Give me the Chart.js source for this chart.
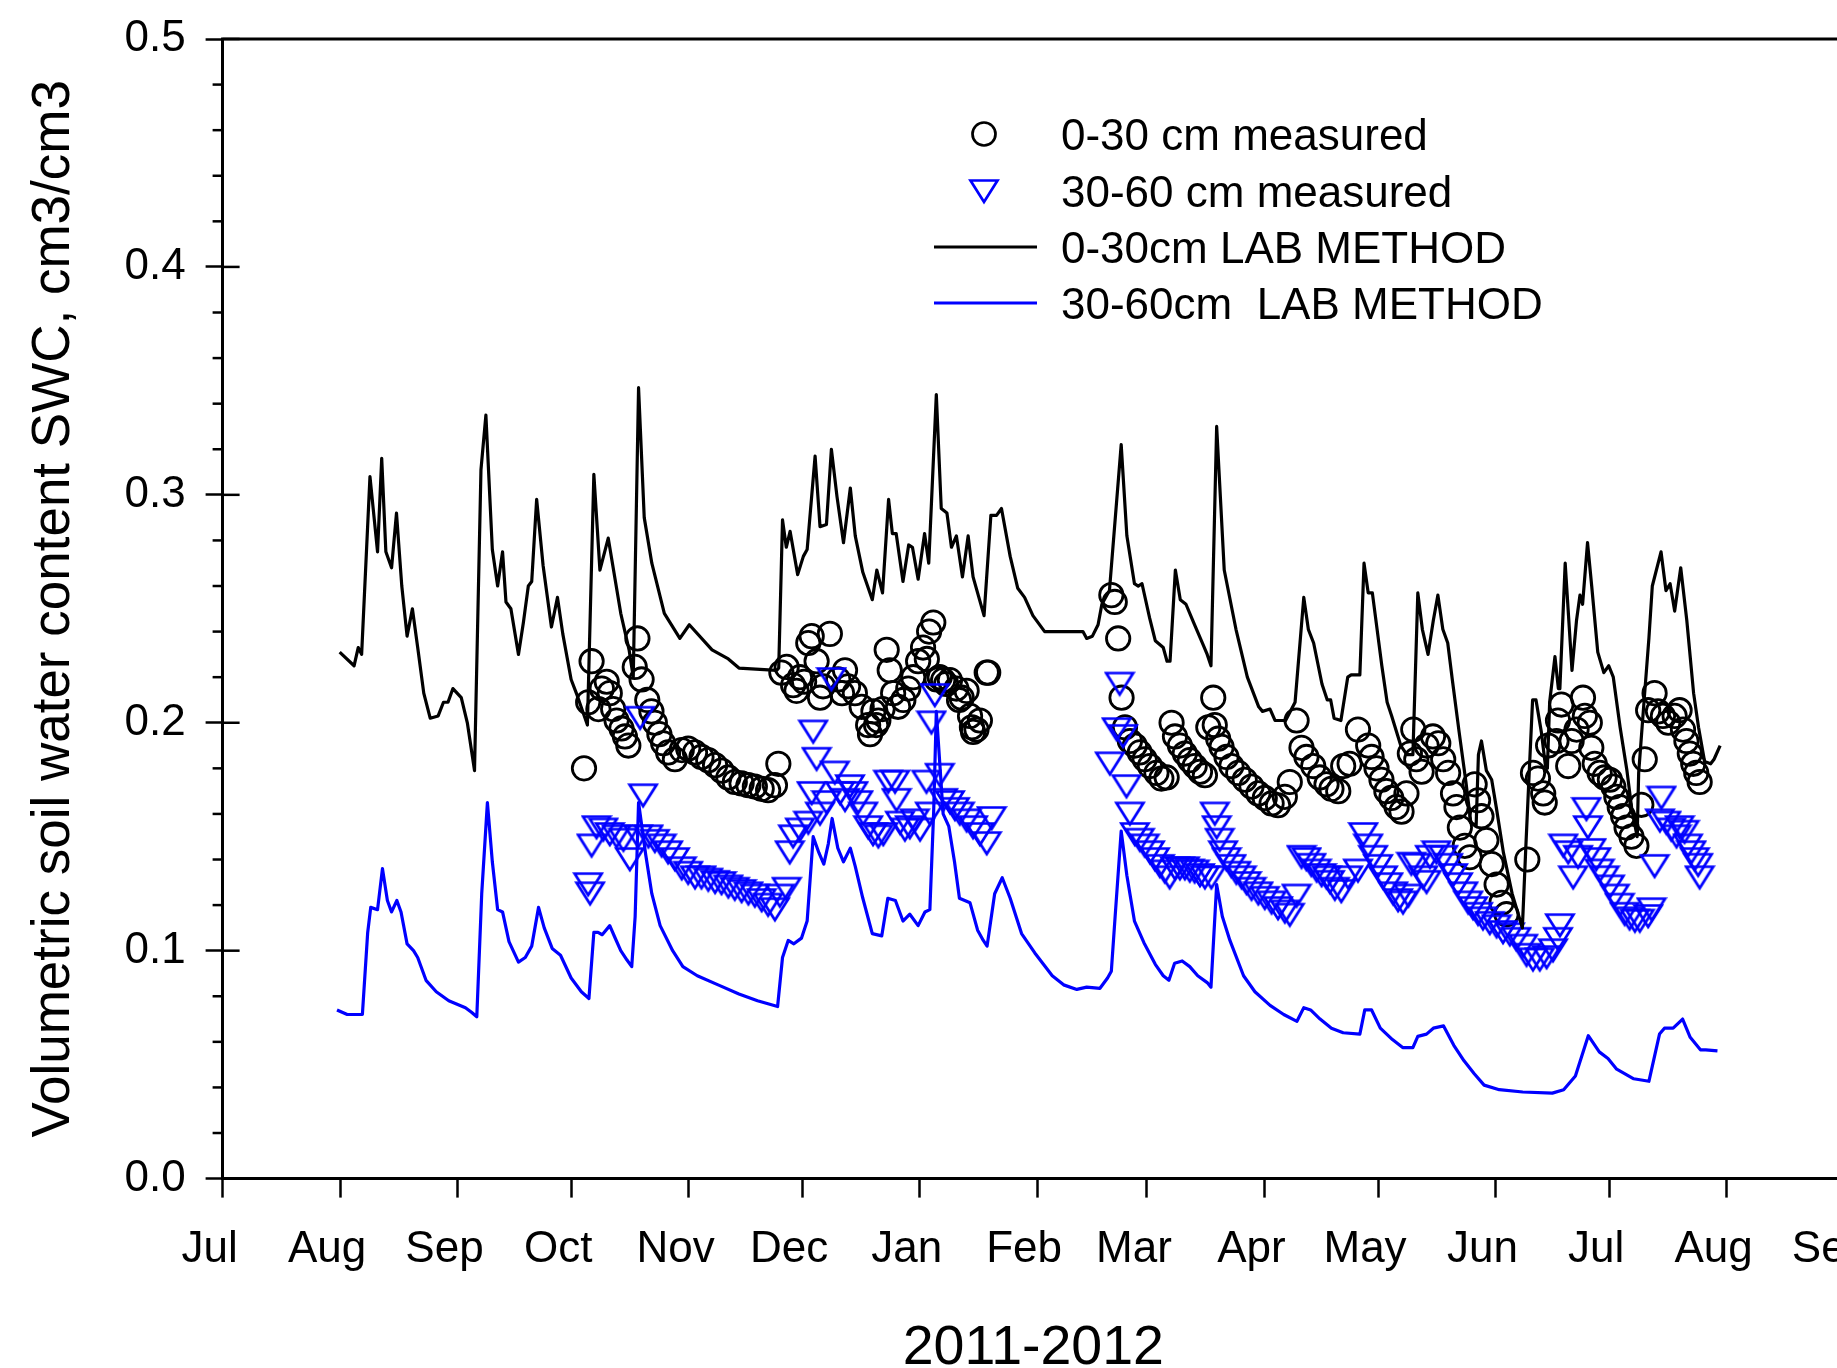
<!DOCTYPE html>
<html>
<head>
<meta charset="utf-8">
<title>Soil water content 2011-2012</title>
<script src="https://cdn.jsdelivr.net/npm/chart.js@4.4.0/dist/chart.umd.min.js"></script>
<style>
  html, body { margin: 0; padding: 0; background: #fff; overflow: hidden; }
  #wrap { width: 1914px; height: 1368px; }
</style>
</head>
<body>
<div id="wrap"><canvas id="swcChart"></canvas></div>
<script>
// x values are days counted from 1 Jul 2011
const monthLabels = ["Jul", "Aug", "Sep", "Oct", "Nov", "Dec", "Jan", "Feb", "Mar", "Apr", "May", "Jun", "Jul", "Aug", "Sep"];
const monthDays = [0, 31, 62, 92, 123, 153, 184, 215, 244, 275, 305, 336, 366, 397, 428];

// 0-30cm LAB METHOD (black line)
const lab030Days = [30.9, 34.7, 35.8, 36.7, 38.9, 40.9, 42.0, 43.1, 44.6, 45.9, 47.3, 48.7, 50.1, 51.5, 53.1, 54.8, 56.9, 58.3, 59.5, 60.8,
  63.0, 64.6, 66.5, 68.2, 69.5, 71.2, 72.6, 73.9, 74.8, 76.1, 78.1, 79.4, 80.7, 81.6, 82.9, 84.6, 86.8, 88.4, 89.8, 92.0,
  93.6, 96.3, 98.0, 99.6, 101.8, 105.1, 107.3, 108.4, 109.8, 111.3, 113.3, 116.6, 120.7, 123.2, 129.2, 133.5, 136.3, 146.3, 146.8, 147.8,
  148.8, 149.8, 151.8, 153.3, 154.3, 156.4, 157.7, 159.4, 160.7, 162.2, 163.9, 165.7, 167.0, 169.0, 171.5, 172.7, 174.2, 175.8, 176.8, 177.8,
  179.6, 181.1, 182.1, 183.6, 185.3, 186.4, 188.4, 189.7, 191.2, 192.4, 193.7, 195.3, 196.8, 198.1, 199.8, 201.0, 202.8, 204.3, 205.6, 207.9,
  209.9, 211.7, 213.9, 217.0, 227.1, 228.1, 229.6, 231.1, 232.1, 234.1, 237.2, 238.7, 240.7, 241.7, 242.7, 244.7, 246.2, 248.3, 249.3, 250.1,
  251.5, 252.8, 254.3, 256.3, 258.9, 259.9, 260.9, 262.4, 264.4, 267.5, 270.5, 273.5, 274.5, 276.5, 277.8, 280.6, 283.1, 285.4, 286.6, 288.0,
  290.2, 291.6, 292.5, 293.4, 295.2, 297.0, 297.9, 300.2, 301.3, 302.4, 303.5, 306.0, 307.4, 308.6, 311.0, 312.6, 314.2, 315.5, 316.7, 318.2,
  319.6, 320.8, 322.1, 323.4, 324.6, 326.4, 328.2, 329.5, 330.9, 331.5, 332.3, 333.6, 335.0, 336.3, 338.1, 340.4, 343.1, 344.0, 344.9, 345.8,
  346.7, 348.1, 349.2, 349.7, 350.3, 351.7, 352.6, 353.0, 354.4, 356.2, 357.4, 358.3, 359.0, 360.3, 361.4, 363.0, 364.6, 365.9, 367.1, 368.9,
  370.7, 372.0, 373.4, 373.8, 375.2, 376.5, 377.4, 379.7, 381.0, 382.1, 383.3, 384.9, 386.5, 388.3, 389.6, 391.2, 392.8, 393.7, 395.3];
const lab030Swc = [0.231, 0.225, 0.233, 0.230, 0.308, 0.275, 0.316, 0.275, 0.268, 0.292, 0.260, 0.238, 0.250, 0.233, 0.213, 0.202, 0.203, 0.209, 0.209, 0.215,
  0.211, 0.200, 0.179, 0.311, 0.335, 0.276, 0.260, 0.275, 0.253, 0.250, 0.230, 0.244, 0.260, 0.262, 0.298, 0.269, 0.242, 0.255, 0.239, 0.219,
  0.212, 0.199, 0.309, 0.267, 0.281, 0.248, 0.232, 0.220, 0.347, 0.290, 0.270, 0.248, 0.237, 0.243, 0.232, 0.228, 0.224, 0.223, 0.224, 0.289,
  0.277, 0.284, 0.265, 0.273, 0.276, 0.317, 0.286, 0.287, 0.320, 0.299, 0.279, 0.303, 0.282, 0.266, 0.254, 0.267, 0.257, 0.298, 0.283, 0.283,
  0.262, 0.278, 0.277, 0.263, 0.283, 0.270, 0.344, 0.294, 0.292, 0.277, 0.282, 0.264, 0.282, 0.264, 0.254, 0.247, 0.291, 0.291, 0.294, 0.273,
  0.259, 0.255, 0.247, 0.240, 0.240, 0.237, 0.238, 0.243, 0.252, 0.258, 0.322, 0.282, 0.261, 0.260, 0.261, 0.246, 0.236, 0.233, 0.227, 0.227,
  0.267, 0.254, 0.252, 0.244, 0.234, 0.230, 0.225, 0.330, 0.267, 0.241, 0.220, 0.207, 0.205, 0.206, 0.201, 0.201, 0.209, 0.255, 0.241, 0.235,
  0.217, 0.210, 0.210, 0.202, 0.201, 0.220, 0.221, 0.221, 0.270, 0.257, 0.257, 0.225, 0.209, 0.203, 0.190, 0.186, 0.186, 0.257, 0.241, 0.230,
  0.245, 0.256, 0.241, 0.235, 0.219, 0.196, 0.174, 0.156, 0.155, 0.186, 0.192, 0.179, 0.175, 0.162, 0.143, 0.125, 0.110, 0.145, 0.178, 0.210,
  0.210, 0.196, 0.181, 0.180, 0.209, 0.229, 0.215, 0.215, 0.270, 0.223, 0.245, 0.256, 0.252, 0.279, 0.260, 0.231, 0.222, 0.225, 0.220, 0.198,
  0.179, 0.162, 0.150, 0.178, 0.209, 0.237, 0.260, 0.275, 0.258, 0.261, 0.249, 0.268, 0.245, 0.213, 0.198, 0.183, 0.182, 0.184, 0.190];

// 30-60cm LAB METHOD (blue line)
const lab3060Days = [30.2, 32.9, 36.9, 38.3, 39.1, 40.9, 42.2, 43.5, 44.6, 46.0, 47.1, 48.7, 50.4, 51.5, 53.7, 56.4, 59.7, 64.1, 65.7, 67.1,
  68.4, 69.9, 71.2, 72.6, 73.9, 75.6, 78.1, 79.9, 81.6, 83.4, 84.9, 87.0, 89.2, 92.0, 94.7, 96.7, 98.0, 99.1, 100.2, 102.2,
  103.5, 105.1, 106.7, 108.0, 108.9, 109.8, 111.7, 113.3, 115.5, 118.8, 121.5, 125.3, 130.8, 136.3, 141.2, 146.5, 147.8, 149.3, 150.8, 152.8,
  154.3, 155.9, 157.4, 158.7, 159.9, 160.9, 162.4, 163.9, 165.7, 167.0, 169.0, 171.5, 174.0, 175.6, 177.6, 179.6, 181.4, 183.6, 185.4, 186.7,
  187.7, 188.4, 190.2, 191.7, 193.2, 194.5, 197.3, 199.3, 200.8, 201.8, 203.8, 205.8, 207.9, 210.9, 214.4, 219.0, 222.0, 225.5, 228.1, 231.6,
  233.6, 234.6, 235.6, 237.2, 238.7, 240.7, 243.2, 246.2, 248.3, 249.8, 251.3, 253.3, 255.3, 257.4, 259.9, 260.9, 262.4, 263.9, 265.9, 269.5,
  272.5, 276.5, 280.1, 283.6, 285.4, 287.2, 289.7, 292.7, 295.8, 300.2, 301.5, 303.3, 305.6, 308.8, 311.5, 314.2, 315.5, 317.8, 319.6, 322.3,
  325.0, 327.7, 330.4, 333.0, 337.0, 343.2, 351.0, 354.0, 357.1, 360.5, 363.4, 365.7, 368.0, 372.5, 376.5, 379.3, 380.6, 382.9, 385.4, 387.4,
  390.1, 391.5, 394.6];
const lab3060Swc = [0.074, 0.072, 0.072, 0.108, 0.119, 0.118, 0.136, 0.122, 0.117, 0.122, 0.117, 0.103, 0.100, 0.097, 0.087, 0.082, 0.078, 0.075, 0.073, 0.071,
  0.125, 0.165, 0.139, 0.118, 0.117, 0.104, 0.095, 0.097, 0.102, 0.119, 0.110, 0.101, 0.098, 0.088, 0.082, 0.079, 0.108, 0.108, 0.107, 0.111,
  0.106, 0.100, 0.096, 0.093, 0.115, 0.165, 0.142, 0.125, 0.111, 0.100, 0.093, 0.089, 0.085, 0.081, 0.078, 0.0755, 0.097, 0.1045, 0.103, 0.1055,
  0.113, 0.150, 0.143, 0.138, 0.147, 0.158, 0.145, 0.139, 0.145, 0.137, 0.123, 0.1075, 0.1065, 0.123, 0.122, 0.113, 0.116, 0.111, 0.117, 0.118,
  0.161, 0.205, 0.160, 0.1545, 0.139, 0.123, 0.121, 0.109, 0.1045, 0.102, 0.125, 0.132, 0.123, 0.1075, 0.099, 0.089, 0.085, 0.083, 0.084, 0.0835,
  0.088, 0.091, 0.115, 0.1525, 0.133, 0.113, 0.1035, 0.094, 0.089, 0.087, 0.0945, 0.0955, 0.093, 0.089, 0.086, 0.084, 0.129, 0.115, 0.1045, 0.089,
  0.082, 0.076, 0.072, 0.069, 0.075, 0.074, 0.070, 0.066, 0.064, 0.0634, 0.074, 0.074, 0.066, 0.061, 0.0575, 0.0575, 0.0624, 0.0634, 0.066, 0.067,
  0.0585, 0.0517, 0.046, 0.041, 0.039, 0.038, 0.0375, 0.039, 0.045, 0.0627, 0.0556, 0.0527, 0.048, 0.0438, 0.0427, 0.0634, 0.066, 0.066, 0.070, 0.062,
  0.0565, 0.0565, 0.056];

// 0-30 cm measured (circles)
const meas030Days = [95.4, 96.5, 97.4, 99.2, 100.1, 101.4, 102.2, 103.1, 104.0, 105.3, 106.2, 107.1, 108.8, 109.5, 110.6, 112.1, 113.2, 114.1, 115.3, 116.3,
  117.6, 119.4, 121.2, 122.9, 124.7, 126.4, 128.2, 130.0, 131.7, 133.5, 135.2, 137.0, 138.8, 140.5, 142.3, 144.0, 145.8, 146.7, 147.5, 148.9,
  150.6, 151.5, 152.4, 153.5, 154.6, 155.5, 156.8, 157.7, 158.5, 160.3, 162.5, 163.5, 164.3, 165.1, 166.9, 168.7, 170.4, 170.9, 171.8, 172.5,
  173.1, 174.2, 175.3, 176.1, 177.0, 178.3, 179.7, 181.0, 182.3, 183.6, 184.9, 185.9, 186.5, 187.6, 188.5, 189.3, 190.2, 191.0, 192.0, 193.7,
  194.4, 195.1, 196.4, 197.3, 197.8, 198.1, 199.0, 199.9, 201.7, 202.1,
  234.6, 235.5, 236.4, 237.3, 238.2, 239.5, 240.8, 242.1, 243.4, 244.8, 246.5, 247.8, 249.2, 250.5, 251.4, 252.7, 254.0, 255.3, 256.6, 258.0,
  259.3, 260.2, 261.5, 261.9, 262.8, 263.7, 265.0, 266.3, 268.1, 269.8, 271.6, 273.4, 275.1, 276.9, 278.6, 280.4, 281.7, 283.5, 284.8, 286.1,
  287.9, 289.6, 291.4, 292.7, 294.5, 295.8, 297.5, 299.7, 302.4, 303.3, 304.6, 305.9, 307.2, 308.5, 309.9, 311.2, 312.5, 313.4, 314.3, 315.1,
  316.5, 317.8, 319.5, 320.9, 322.2, 323.5, 324.8, 325.7, 326.6, 327.9, 329.2, 330.5, 331.4, 332.3, 333.6, 335.0, 336.3, 337.6, 338.9, 344.4,
  345.9, 347.2, 348.6, 349.0, 349.9, 352.1, 352.5, 353.4, 355.2, 356.1, 357.4, 359.1, 359.6, 360.9, 361.3, 362.2, 363.5, 364.8, 366.2, 367.1,
  367.9, 368.8, 369.7, 370.6, 371.9, 373.2, 374.5, 375.4, 376.3, 378.0, 378.9, 380.2, 381.6, 383.3, 384.6, 385.5, 386.4, 387.3, 388.2, 389.0, 389.9];
const meas030Swc = [0.180, 0.209, 0.227, 0.206, 0.215, 0.218, 0.213, 0.206, 0.201, 0.1975, 0.194, 0.190, 0.2245, 0.237, 0.219, 0.210, 0.205, 0.200, 0.195, 0.191,
  0.187, 0.184, 0.188, 0.1887, 0.187, 0.185, 0.1836, 0.1814, 0.179, 0.176, 0.174, 0.1734, 0.1726, 0.172, 0.171, 0.1704, 0.1726, 0.182, 0.222, 0.2245,
  0.2165, 0.214, 0.220, 0.218, 0.235, 0.238, 0.227, 0.211, 0.216, 0.239, 0.219, 0.213, 0.223, 0.216, 0.213, 0.207, 0.199, 0.195, 0.205, 0.199,
  0.201, 0.206, 0.232, 0.223, 0.213, 0.207, 0.210, 0.215, 0.220, 0.227, 0.233, 0.228, 0.240, 0.244, 0.219, 0.220, 0.2187, 0.217, 0.2187, 0.215,
  0.210, 0.211, 0.214, 0.203, 0.198, 0.196, 0.197, 0.201, 0.222, 0.222,
  0.256, 0.253, 0.237, 0.211, 0.198, 0.192, 0.190, 0.187, 0.184, 0.181, 0.178, 0.1755, 0.176, 0.200, 0.194, 0.190, 0.1865, 0.1836, 0.181, 0.1785,
  0.177, 0.198, 0.211, 0.199, 0.193, 0.1894, 0.185, 0.181, 0.178, 0.175, 0.172, 0.169, 0.167, 0.1646, 0.1638, 0.1675, 0.174, 0.201, 0.189, 0.185,
  0.181, 0.176, 0.173, 0.171, 0.170, 0.181, 0.182, 0.197, 0.190, 0.185, 0.180, 0.175, 0.170, 0.167, 0.163, 0.161, 0.169, 0.1865, 0.197, 0.184,
  0.1785, 0.190, 0.194, 0.191, 0.184, 0.178, 0.169, 0.163, 0.154, 0.146, 0.141, 0.173, 0.166, 0.159, 0.1485, 0.138, 0.129, 0.121, 0.116, 0.140,
  0.178, 0.1755, 0.169, 0.165, 0.190, 0.192, 0.201, 0.208, 0.181, 0.192, 0.197, 0.211, 0.203, 0.200, 0.189, 0.182, 0.178, 0.176, 0.175, 0.172,
  0.1675, 0.163, 0.159, 0.154, 0.150, 0.146, 0.164, 0.184, 0.2055, 0.213, 0.205, 0.203, 0.200, 0.203, 0.2055, 0.197, 0.192, 0.1865, 0.182, 0.178, 0.174];

// 30-60 cm measured (triangles)
const meas3060Days = [96.5, 97.0, 97.4, 98.7, 100.5, 102.2, 104.0, 105.8, 107.5, 109.7, 110.2, 111.0, 112.4, 114.1, 115.9, 117.6, 119.4, 121.2, 122.9, 124.7,
  126.4, 128.2, 130.0, 131.7, 133.5, 135.2, 137.0, 138.8, 140.5, 142.3, 144.0, 145.8, 147.1, 148.9, 149.7, 150.6, 152.4, 154.6, 155.5, 155.9,
  156.8, 157.7, 159.4, 160.7, 161.6, 163.0, 164.3, 165.6, 166.5, 167.8, 169.1, 170.4, 171.7, 173.1, 174.4, 175.7, 177.5, 177.9, 178.8, 180.1,
  181.4, 182.7, 184.1, 185.8, 186.7, 187.1, 188.0, 189.3, 190.2, 192.0, 193.3, 194.6, 196.4, 198.1, 199.9, 201.7, 203.0,
  234.2, 236.0, 236.8, 237.7, 238.6, 239.5, 240.8, 242.1, 243.4, 244.8, 246.1, 247.4, 248.7, 250.0, 251.4, 252.7, 254.0, 255.3, 256.6, 258.0,
  259.3, 261.0, 261.9, 262.4, 263.2, 264.1, 265.0, 266.3, 267.6, 269.0, 270.3, 271.6, 273.4, 275.1, 276.9, 278.6, 280.4, 281.7, 283.5, 284.8,
  286.1, 287.4, 288.8, 290.1, 291.4, 292.3, 293.6, 295.3, 297.1, 299.7, 301.1, 302.4, 303.7, 305.0, 306.3, 307.7, 309.0, 310.3, 311.6, 313.0,
  313.8, 315.1, 316.9, 317.8, 318.7, 320.4, 322.2, 323.5, 324.8, 326.1, 327.5, 328.8, 330.1, 331.4, 332.7, 334.5, 336.3, 338.0, 339.8, 341.5,
  343.3, 344.2, 345.9, 347.7, 349.5, 351.2, 352.5, 353.0, 353.9, 355.2, 356.5, 357.8, 360.0, 360.4, 361.3, 362.6, 363.5, 364.8, 366.2, 367.5,
  368.8, 370.1, 371.4, 372.8, 374.1, 376.3, 377.2, 378.0, 379.4, 379.8, 381.1, 382.4, 383.8, 384.6, 385.9, 386.8, 387.7, 388.6, 389.5, 389.9];
const meas3060Swc = [0.129, 0.125, 0.146, 0.154, 0.153, 0.151, 0.150, 0.1485, 0.140, 0.150, 0.202, 0.168, 0.150, 0.148, 0.146, 0.143, 0.140, 0.136, 0.134, 0.132,
  0.132, 0.131, 0.130, 0.1295, 0.128, 0.127, 0.126, 0.125, 0.124, 0.122, 0.120, 0.118, 0.124, 0.127, 0.143, 0.150, 0.153, 0.156, 0.169, 0.196,
  0.184, 0.160, 0.165, 0.219, 0.178, 0.169, 0.166, 0.172, 0.169, 0.165, 0.160, 0.154, 0.151, 0.150, 0.151, 0.174, 0.174, 0.166, 0.156, 0.153,
  0.154, 0.157, 0.153, 0.174, 0.160, 0.200, 0.212, 0.177, 0.166, 0.165, 0.162, 0.160, 0.157, 0.154, 0.151, 0.147, 0.158,
  0.182, 0.197, 0.217, 0.194, 0.172, 0.160, 0.151, 0.1485, 0.146, 0.143, 0.140, 0.137, 0.1346, 0.132, 0.136, 0.136, 0.136, 0.135, 0.1346, 0.133,
  0.132, 0.132, 0.160, 0.154, 0.1485, 0.143, 0.140, 0.137, 0.134, 0.132, 0.1295, 0.127, 0.125, 0.123, 0.121, 0.1185, 0.117, 0.1156, 0.124, 0.141,
  0.140, 0.1375, 0.135, 0.133, 0.132, 0.130, 0.127, 0.126, 0.132, 0.135, 0.151, 0.146, 0.141, 0.137, 0.132, 0.129, 0.125, 0.122, 0.121, 0.124,
  0.138, 0.1375, 0.132, 0.130, 0.141, 0.143, 0.141, 0.1375, 0.133, 0.129, 0.125, 0.121, 0.1185, 0.116, 0.114, 0.112, 0.1105, 0.108, 0.107, 0.105,
  0.102, 0.098, 0.096, 0.096, 0.097, 0.100, 0.105, 0.111, 0.146, 0.143, 0.132, 0.141, 0.162, 0.154, 0.144, 0.140, 0.135, 0.132, 0.128, 0.124,
  0.120, 0.116, 0.114, 0.113, 0.113, 0.115, 0.118, 0.137, 0.157, 0.167, 0.156, 0.153, 0.150, 0.154, 0.152, 0.146, 0.143, 0.140, 0.1375, 0.132];

const fontFamily = "'Liberation Sans', Arial, sans-serif";
const blue = "#0000ff";

const toPoints = (days, vals) => days.map((d, i) => ({ x: d, y: vals[i] }));

// open, downward pointing triangle used as the point style
function makeTriangle() {
  const c = document.createElement("canvas");
  c.width = 32;
  c.height = 27;
  const t = c.getContext("2d");
  t.strokeStyle = blue;
  t.lineWidth = 2.7;
  t.beginPath();
  t.moveTo(2.5, 2.5);
  t.lineTo(29.5, 2.5);
  t.lineTo(16, 24);
  t.closePath();
  t.stroke();
  return c;
}
const triangleImg = makeTriangle();

// top frame line, minor/inner ticks on the y axis, and the legend inside the plot
const framePlugin = {
  id: "framePlugin",
  afterDraw(chart) {
    const ctx = chart.ctx;
    const area = chart.chartArea;
    const yScale = chart.scales.y;
    ctx.save();
    ctx.strokeStyle = "#000";
    ctx.lineWidth = 3;
    ctx.beginPath();
    ctx.moveTo(area.left - 1.5, area.top);
    ctx.lineTo(area.right + 2, area.top);
    ctx.stroke();

    ctx.lineWidth = 2.5;
    for (let k = 0; k <= 25; k++) {
      const py = yScale.getPixelForValue(k * 0.02);
      ctx.beginPath();
      if (k % 5 === 0) {
        ctx.moveTo(area.left, py);
        ctx.lineTo(area.left + 17, py);
      } else {
        ctx.moveTo(area.left - 10, py);
        ctx.lineTo(area.left, py);
      }
      ctx.stroke();
    }

    // legend
    const ds = chart.data.datasets;
    const markX = 984, textX = 1061;
    const rows = [134, 191, 247, 303];
    ctx.font = "44px " + fontFamily;
    ctx.fillStyle = "#000";
    ctx.textBaseline = "alphabetic";
    ctx.textAlign = "left";

    ctx.lineWidth = 2.7;
    ctx.beginPath();
    ctx.arc(markX, rows[0], 11.5, 0, Math.PI * 2);
    ctx.stroke();
    ctx.fillText(ds[3].label, textX, rows[0] + 16);

    ctx.drawImage(triangleImg, markX - 16, rows[1] - 13);
    ctx.fillText(ds[2].label, textX, rows[1] + 16);

    ctx.lineWidth = 3;
    ctx.strokeStyle = "#000";
    ctx.beginPath();
    ctx.moveTo(934, rows[2]);
    ctx.lineTo(1037, rows[2]);
    ctx.stroke();
    ctx.fillText(ds[1].label, textX, rows[2] + 16);

    ctx.strokeStyle = blue;
    ctx.beginPath();
    ctx.moveTo(934, rows[3]);
    ctx.lineTo(1037, rows[3]);
    ctx.stroke();
    ctx.fillText(ds[0].label, textX, rows[3] + 16);
    ctx.restore();
  }
};

const ctx = document.getElementById("swcChart").getContext("2d");
const swcChart = new Chart(ctx, {
  type: "scatter",
  data: {
    datasets: [
      {
        label: "30-60cm  LAB METHOD",
        data: toPoints(lab3060Days, lab3060Swc),
        showLine: true,
        borderColor: blue,
        borderWidth: 3.2,
        borderJoinStyle: "round",
        pointRadius: 0,
        tension: 0,
        order: 0,
      },
      {
        label: "0-30cm LAB METHOD",
        data: toPoints(lab030Days, lab030Swc),
        showLine: true,
        borderColor: "#000",
        borderWidth: 3.2,
        borderJoinStyle: "round",
        pointRadius: 0,
        tension: 0,
        order: 1,
      },
      {
        label: "30-60 cm measured",
        data: toPoints(meas3060Days, meas3060Swc),
        pointStyle: triangleImg,
        pointRadius: 12,
        order: 2,
      },
      {
        label: "0-30 cm measured",
        data: toPoints(meas030Days, meas030Swc),
        pointStyle: "circle",
        pointRadius: 11.7,
        pointBorderWidth: 2.8,
        pointBorderColor: "#000",
        pointBackgroundColor: "rgba(0,0,0,0)",
        order: 3,
      },
    ],
  },
  options: {
    responsive: true,
    maintainAspectRatio: false,
    animation: false,
    layout: { padding: { top: 39, right: 70, left: 0, bottom: 0 } },
    plugins: {
      legend: { display: false },
      tooltip: { enabled: false },
    },
    scales: {
      x: {
        type: "linear",
        min: 0,
        max: 428,
        afterBuildTicks: function (scale) {
          scale.ticks = monthDays.map((d) => ({ value: d }));
        },
        afterFit: function (scale) {
          scale.height = 189.4;
        },
        ticks: {
          autoSkip: false,
          maxRotation: 0,
          padding: 26,
          labelOffset: -13,
          color: "#000",
          font: { family: fontFamily, size: 44 },
          callback: function (value, index) {
            return monthLabels[index];
          },
        },
        grid: { drawOnChartArea: false, tickLength: 19, tickWidth: 2.5, tickColor: "#000" },
        border: { display: true, color: "#000", width: 3 },
        title: {
          display: true,
          text: "2011-2012",
          color: "#000",
          padding: 0,
          font: { family: fontFamily, size: 55.5, lineHeight: 0.7 },
        },
      },
      y: {
        min: 0,
        max: 0.5,
        afterFit: function (scale) {
          scale.width = 222.6;
        },
        ticks: {
          stepSize: 0.1,
          padding: 20,
          color: "#000",
          font: { family: fontFamily, size: 44, lineHeight: 0.3 },
          callback: function (value) {
            return value.toFixed(1);
          },
        },
        grid: { drawOnChartArea: false, tickLength: 17, tickWidth: 2.5, tickColor: "#000" },
        border: { display: true, color: "#000", width: 3 },
        title: {
          display: true,
          text: "Volumetric soil water content SWC, cm3/cm3",
          color: "#000",
          padding: { top: 28, bottom: 0 },
          font: { family: fontFamily, size: 53, lineHeight: 1 },
        },
      },
    },
  },
  plugins: [framePlugin],
});
</script>
</body>
</html>
